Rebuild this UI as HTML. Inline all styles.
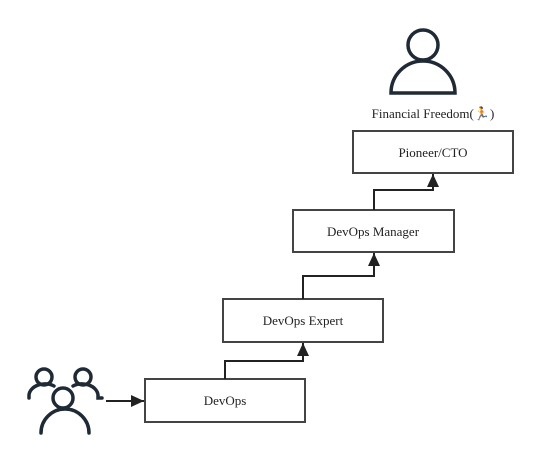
<!DOCTYPE html>
<html><head><style>
body{margin:0;background:#fff;}
svg{display:block;}
text{font-family:"Liberation Serif",serif;font-size:13px;fill:#222;}
</style></head><body>
<svg width="538" height="462" viewBox="0 0 538 462" xmlns="http://www.w3.org/2000/svg">
<defs><marker id="a" markerWidth="14" markerHeight="14" refX="13" refY="6" orient="auto" markerUnits="userSpaceOnUse"><path d="M0,0 L13,6 L0,12 z" fill="#222"/></marker></defs>
<g fill="none" stroke="#1f2a36" stroke-width="3.5" stroke-linecap="round">
<circle cx="423" cy="45" r="15"/>
<path d="M391 93 A32 32 0 0 1 455 93 Z"/>
<circle cx="44" cy="377" r="8"/><path d="M29 398 V395 A16 12 0 0 1 54 386"/>
<circle cx="83" cy="377" r="8"/><path d="M73 386 A16 12 0 0 1 98 395 V398 H102"/>
<circle cx="63" cy="398" r="10"/><path d="M41 433 A24 24 0 0 1 89 433"/>
</g>
<g fill="#fff" stroke="#444" stroke-width="2">
<rect x="353" y="131" width="160" height="42"/>
<rect x="293" y="210" width="161" height="42"/>
<rect x="223" y="299" width="160" height="43"/>
<rect x="145" y="379" width="160" height="43"/>
</g>
<g fill="none" stroke="#222" stroke-width="2">
<path d="M106 401 H144" marker-end="url(#a)"/>
<path d="M225 379 V361 H303 V343" marker-end="url(#a)"/>
<path d="M303 299 V276 H374 V253" marker-end="url(#a)"/>
<path d="M374 210 V190 H433 V174" marker-end="url(#a)"/>
</g>
<text x="433" y="118" text-anchor="middle">Financial Freedom(🏃)</text>
<text x="433" y="157" text-anchor="middle">Pioneer/CTO</text>
<text x="373" y="236" text-anchor="middle">DevOps Manager</text>
<text x="303" y="325" text-anchor="middle">DevOps Expert</text>
<text x="225" y="405" text-anchor="middle">DevOps</text>
</svg>
</body></html>
